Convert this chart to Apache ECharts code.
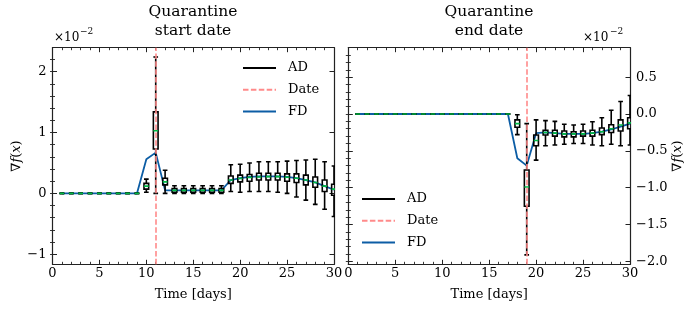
<!DOCTYPE html>
<html>
<head>
<meta charset="utf-8">
<script src="https://cdn.jsdelivr.net/npm/echarts@6/dist/echarts.min.js"></script>
<style>html,body{margin:0;padding:0;background:#fff}#c{width:697px;height:312px}</style>
</head>
<body>
<div id="c"></div>
<script>
// ---------- data ----------
const days = [1,2,3,4,5,6,7,8,9,10,11,12,13,14,15,16,17,18,19,20,21,22,23,24,25,26,27,28,29,30];

// Left panel (quarantine start date), units of 1e-2
const startDate = 11;
const leftFD   = [0,0,0,0,0,0,0,0,0,0.56,0.67,0.05,0.05,0.05,0.05,0.05,0.05,0.05,0.22,0.25,0.27,0.28,0.28,0.28,0.27,0.25,0.22,0.18,0.12,0.06];
const leftLow  = [0,0,0,0,0,0,0,0,0,0.02,0.00,0.00,0.00,0.00,0.00,0.00,0.00,0.00,0.03,0.02,0.03,0.03,0.03,0.02,0.00,-0.06,-0.11,-0.18,-0.26,-0.38];
const leftQ1   = [0,0,0,0,0,0,0,0,0,0.07,0.73,0.14,0.02,0.02,0.02,0.02,0.02,0.02,0.165,0.19,0.20,0.22,0.22,0.22,0.20,0.18,0.14,0.10,0.03,-0.03];
const leftMed  = [0,0,0,0,0,0,0,0,0,0.12,1.03,0.19,0.05,0.05,0.05,0.05,0.05,0.05,0.22,0.245,0.26,0.27,0.275,0.275,0.265,0.25,0.22,0.18,0.12,0.07];
const leftQ3   = [0,0,0,0,0,0,0,0,0,0.165,1.34,0.25,0.08,0.08,0.08,0.08,0.08,0.08,0.285,0.30,0.31,0.33,0.33,0.33,0.32,0.32,0.30,0.27,0.22,0.15];
const leftHigh = [0,0,0,0,0,0,0,0,0,0.235,2.24,0.38,0.125,0.125,0.125,0.125,0.125,0.125,0.47,0.48,0.50,0.52,0.52,0.52,0.53,0.54,0.55,0.56,0.52,0.45];

// Right panel (quarantine end date), units of 1e-2
const endDate = 19;
const rightFD   = [0,0,0,0,0,0,0,0,0,0,0,0,0,0,0,0,0,-0.60,-0.70,-0.26,-0.25,-0.26,-0.27,-0.27,-0.27,-0.26,-0.24,-0.21,-0.17,-0.13];
const rightLow  = [0,0,0,0,0,0,0,0,0,0,0,0,0,0,0,0,0,-0.28,-1.91,-0.625,-0.43,-0.42,-0.41,-0.40,-0.40,-0.42,-0.43,-0.41,-0.43,-0.42];
const rightQ1   = [0,0,0,0,0,0,0,0,0,0,0,0,0,0,0,0,0,-0.18,-1.25,-0.43,-0.285,-0.30,-0.31,-0.31,-0.30,-0.30,-0.28,-0.25,-0.23,-0.20];
const rightMed  = [0,0,0,0,0,0,0,0,0,0,0,0,0,0,0,0,0,-0.13,-0.99,-0.36,-0.25,-0.26,-0.27,-0.27,-0.27,-0.26,-0.24,-0.20,-0.15,-0.12];
const rightQ3   = [0,0,0,0,0,0,0,0,0,0,0,0,0,0,0,0,0,-0.08,-0.76,-0.285,-0.22,-0.22,-0.23,-0.24,-0.23,-0.22,-0.19,-0.145,-0.08,-0.05];
const rightHigh = [0,0,0,0,0,0,0,0,0,0,0,0,0,0,0,0,0,-0.01,-0.13,-0.08,-0.09,-0.10,-0.14,-0.15,-0.14,-0.105,-0.05,0.05,0.17,0.25];

// ticks
const xTicks = [0,5,10,15,20,25,30];
const leftYTicks = [-1,0,1,2];
const leftYMinor = [-1,-0.8,-0.6,-0.4,-0.2,0,0.2,0.4,0.6,0.8,1,1.2,1.4,1.6,1.8,2,2.2];
const rightYTicks = [-2.0,-1.5,-1.0,-0.5,0.0,0.5];
const rightYMinor = [-2.0,-1.9,-1.8,-1.7,-1.6,-1.5,-1.4,-1.3,-1.2,-1.1,-1.0,-0.9,-0.8,-0.7,-0.6,-0.5,-0.4,-0.3,-0.2,-0.1,0.0,0.1,0.2,0.3,0.4,0.5,0.6,0.7,0.8];

// ---------- styling ----------
const FONT = 'DejaVu Serif';
const BLUE = '#0C5DA5', GREEN = '#00B945', RED = '#ff8a8a';
const L_MIN = -1.165, L_MAX = 2.394, R_MIN = -2.038, R_MAX = 0.899;
const fmtMinus = s => String(s).replace('-', '\u2212');

function boxData(lo, q1, med, q3, hi) {
  return days.map((d, i) => [d, lo[i], q1[i], med[i], q3[i], hi[i]]);
}
function renderBox(params, api) {
  const x = api.value(0);
  const lo = api.coord([x, api.value(1)]);
  const q1 = api.coord([x, api.value(2)]);
  const md = api.coord([x, api.value(3)]);
  const q3 = api.coord([x, api.value(4)]);
  const hi = api.coord([x, api.value(5)]);
  const cx = lo[0];
  const hw = api.coord([x + 0.25, api.value(3)])[0] - cx;
  const st = {stroke: '#000', lineWidth: 1.6, fill: null};
  return {type: 'group', children: [
    {type: 'line', shape: {x1: cx, y1: q3[1], x2: cx, y2: hi[1]}, style: st},
    {type: 'line', shape: {x1: cx, y1: lo[1], x2: cx, y2: q1[1]}, style: st},
    {type: 'line', shape: {x1: cx - hw, y1: lo[1], x2: cx + hw, y2: lo[1]}, style: st},
    {type: 'line', shape: {x1: cx - hw, y1: hi[1], x2: cx + hw, y2: hi[1]}, style: st},
    {type: 'rect', shape: {x: cx - hw, y: q3[1], width: 2 * hw, height: q1[1] - q3[1]}, style: {stroke: '#000', lineWidth: 1.6, fill: 'rgba(0,0,0,0)'}},
    {type: 'line', shape: {x1: cx - hw, y1: md[1], x2: cx + hw, y2: md[1]}, style: {stroke: GREEN, lineWidth: 1.6}}
  ]};
}

const tickLabelStyle = {fontFamily: FONT, fontSize: 13, color: '#000'};
function xAxisPair(grid) {
  const base = {type: 'value', gridIndex: grid, min: 0, max: 30, interval: 5,
    axisLine: {show: true, onZero: false, lineStyle: {color: '#222', width: 1.2}},
    axisTick: {show: true, inside: true, length: 4.5, lineStyle: {color: '#222', width: 1}},
    minorTick: {show: true, splitNumber: 5, length: 2.5, lineStyle: {color: '#222', width: 0.9}},
    splitLine: {show: false}, minorSplitLine: {show: false}};
  return [
    Object.assign({}, base, {position: 'bottom',
      axisLabel: {show: true, margin: 3, ...tickLabelStyle},
      name: 'Time [days]', nameLocation: 'middle', nameGap: 24,
      nameTextStyle: {fontFamily: FONT, fontSize: 13, color: '#000'}}),
    Object.assign({}, base, {position: 'top', axisLabel: {show: false}})
  ];
}
function yAxisSet(grid, min, max, ticks, minor, labelSide, fmt, nameGap) {
  const line = {show: true, onZero: false, lineStyle: {color: '#222', width: 1.2}};
  const mk = (pos, isMajor, labels) => ({
    type: 'value', gridIndex: grid, min: min, max: max, position: pos,
    axisLine: isMajor ? line : {show: false},
    axisTick: {show: true, inside: true, length: isMajor ? 4.5 : 2.5, customValues: isMajor ? ticks : minor,
      lineStyle: {color: '#222', width: isMajor ? 1 : 0.9}},
    axisLabel: labels ? {show: true, customValues: ticks, margin: 6, formatter: fmt, ...tickLabelStyle} : {show: false},
    splitLine: {show: false},
    name: labels ? '\u2207{i|f}({i|x})' : '',
    nameLocation: 'middle', nameGap: nameGap,
    nameTextStyle: {fontFamily: FONT, fontSize: 13, color: '#000', rich: {i: {fontFamily: FONT, fontStyle: 'italic', fontSize: 13, color: '#000'}}}
  });
  const other = labelSide === 'left' ? 'right' : 'left';
  return [mk(labelSide, true, true), mk(labelSide, false, false), mk(other, true, false), mk(other, false, false)];
}

const xAxes = [...xAxisPair(0), ...xAxisPair(1)];
const yAxes = [
  ...yAxisSet(0, L_MIN, L_MAX, leftYTicks, leftYMinor, 'left', v => fmtMinus(Math.round(v)), 29),
  ...yAxisSet(1, R_MIN, R_MAX, rightYTicks, rightYMinor, 'right', v => fmtMinus(v.toFixed(1)), 41)
];

function panelSeries(xi, yi, boxes, fd, date) {
  return [
    {name: 'AD', type: 'custom', xAxisIndex: xi, yAxisIndex: yi, renderItem: renderBox, clip: true,
      itemStyle: {color: '#000'}, encode: {x: 0, y: [1, 2, 3, 4, 5]}, data: boxes, z: 3, animation: false},
    {name: 'Date', type: 'line', xAxisIndex: xi, yAxisIndex: yi, data: [], color: RED, itemStyle: {color: RED},
      lineStyle: {color: RED}, z: 4, animation: false,
      markLine: {silent: true, symbol: ['none', 'none'], label: {show: false}, animation: false,
        lineStyle: {color: RED, type: [5.5, 2.4], width: 1.6}, data: [{xAxis: date}]}},
    {name: 'FD', type: 'line', xAxisIndex: xi, yAxisIndex: yi, data: days.map((d, i) => [d, fd[i]]),
      showSymbol: false, symbol: 'none', color: BLUE, lineStyle: {color: BLUE, width: 1.8}, z: 2, animation: false}
  ];
}

const ICON_SOLID = 'path://M0 0H33V2H0Z';
const ICON_DASH = 'path://M0 0H5.5V2H0ZM7.9 0H13.4V2H7.9ZM15.8 0H21.3V2H15.8ZM23.7 0H29.2V2H23.7ZM31.6 0H33V2H31.6Z';
function legend(left, top) {
  return {left: left, top: top, orient: 'vertical', padding: 0, itemGap: 5.7, itemWidth: 33, itemHeight: 2,
    textStyle: {fontFamily: FONT, fontSize: 13, color: '#000', lineHeight: 16, padding: [0, 0, 0, 7]},
    selectedMode: false,
    data: [{name: 'AD', icon: ICON_SOLID, itemStyle: {color: '#000'}},
           {name: 'Date', icon: ICON_DASH, itemStyle: {color: RED}},
           {name: 'FD', icon: ICON_SOLID, itemStyle: {color: BLUE}}]};
}

const titleStyle = {fontFamily: FONT, fontSize: 15.5, fontWeight: 'normal', color: '#000', lineHeight: 18.5};
const option = {
  animation: false,
  backgroundColor: '#fff',
  title: [
    {text: 'Quarantine\nstart date', left: 193, top: 3, textAlign: 'center', textStyle: titleStyle, padding: 0},
    {text: 'Quarantine\nend date', left: 489, top: 3, textAlign: 'center', textStyle: titleStyle, padding: 0},
    {text: '\u00d710', left: 54, top: 32, padding: 0, textStyle: {fontFamily: FONT, fontSize: 12, fontWeight: 'normal', color: '#000'}},
    {text: '\u22122', left: 80, top: 27, padding: 0, textStyle: {fontFamily: FONT, fontSize: 9, fontWeight: 'normal', color: '#000'}},
    {text: '\u00d710', left: 583, top: 32, padding: 0, textStyle: {fontFamily: FONT, fontSize: 12, fontWeight: 'normal', color: '#000'}},
    {text: '\u22122', left: 610, top: 27, padding: 0, textStyle: {fontFamily: FONT, fontSize: 9, fontWeight: 'normal', color: '#000'}}
  ],
  legend: [legend(243, 60), legend(362, 191)],
  grid: [
    {left: 52.5, top: 47.7, width: 281.5, height: 216.6, containLabel: false},
    {left: 348.3, top: 47.7, width: 281.7, height: 216.6, containLabel: false}
  ],
  xAxis: xAxes,
  yAxis: yAxes,
  series: [
    ...panelSeries(0, 0, boxData(leftLow, leftQ1, leftMed, leftQ3, leftHigh), leftFD, startDate),
    ...panelSeries(2, 4, boxData(rightLow, rightQ1, rightMed, rightQ3, rightHigh), rightFD, endDate)
  ]
};
const chart = echarts.init(document.getElementById('c'), null, {renderer: 'canvas'});
chart.setOption(option);
</script>
</body>
</html>
